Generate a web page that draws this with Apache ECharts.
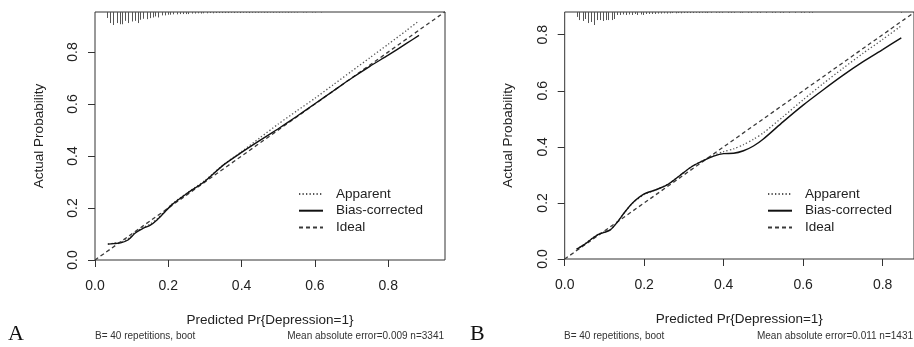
<!DOCTYPE html>
<html>
<head>
<meta charset="utf-8">
<script src="https://cdn.jsdelivr.net/npm/echarts@6.0.0/dist/echarts.min.js"></script>
<style>
html, body { margin: 0; padding: 0; background: #fff; }
#main { width: 914px; height: 347px; }
</style>
</head>
<body>
<div id="main"></div>
<script>
// tick values (both panels)
var tickValues = [0, 0.2, 0.4, 0.6, 0.8];
var legendNames = ['Apparent', 'Bias-corrected', 'Ideal'];

// panel A  (n=3341)
var aPredX = [0.035, 0.05, 0.07, 0.09, 0.11, 0.13, 0.15, 0.17, 0.19, 0.21, 0.25, 0.30, 0.35, 0.40, 0.45, 0.50, 0.55, 0.60, 0.65, 0.70, 0.75, 0.80, 0.85, 0.884];
var aBias = [0.061, 0.063, 0.066, 0.077, 0.104, 0.121, 0.133, 0.155, 0.184, 0.213, 0.255, 0.303, 0.365, 0.414, 0.460, 0.505, 0.552, 0.601, 0.650, 0.699, 0.745, 0.788, 0.833, 0.864];
var aApparent = [0.061, 0.064, 0.069, 0.082, 0.107, 0.124, 0.138, 0.159, 0.187, 0.215, 0.257, 0.306, 0.366, 0.417, 0.470, 0.523, 0.573, 0.622, 0.674, 0.726, 0.778, 0.830, 0.883, 0.920];
var aIdeal = [0, 0.955];
var aRugX = [0.034, 0.042, 0.050, 0.059, 0.067, 0.075, 0.083, 0.091, 0.100, 0.108, 0.116, 0.124, 0.132, 0.141, 0.149, 0.157, 0.165, 0.173, 0.182, 0.190,
             0.198, 0.206, 0.214, 0.223, 0.231, 0.239, 0.247, 0.255, 0.264, 0.272, 0.280, 0.288, 0.296, 0.305, 0.313, 0.321, 0.329, 0.337, 0.346, 0.354,
             0.362, 0.370, 0.378, 0.387, 0.395, 0.403, 0.411, 0.419, 0.428, 0.436, 0.444, 0.452, 0.460, 0.469, 0.477, 0.485, 0.493, 0.501, 0.510, 0.518,
             0.526, 0.534, 0.542, 0.551, 0.559, 0.567, 0.575, 0.583, 0.592, 0.600, 0.608, 0.616];
var aRugFreq = [46, 85, 100, 85, 94, 94, 68, 85, 73, 68, 85, 60, 52, 55, 47, 42, 34, 42, 26, 26,
                21, 21, 18, 18, 16, 16, 16, 16, 12, 12, 10, 12, 10, 10, 8, 10, 8, 8, 8, 8,
                8, 6, 8, 6, 8, 6, 6, 8, 6, 6, 6, 4, 6, 6, 4, 6, 4, 6, 4, 4,
                6, 4, 4, 4, 0, 4, 4, 0, 4, 4, 0, 4];

// panel B  (n=1431)
var bPredX = [0.03, 0.05, 0.07, 0.085, 0.10, 0.115, 0.13, 0.15, 0.17, 0.20, 0.23, 0.26, 0.29, 0.32, 0.35, 0.375, 0.40, 0.425, 0.45, 0.475, 0.50, 0.55, 0.60, 0.65, 0.70, 0.75, 0.80, 0.847];
var bBias = [0.035, 0.052, 0.074, 0.088, 0.095, 0.104, 0.127, 0.165, 0.199, 0.232, 0.247, 0.266, 0.298, 0.330, 0.352, 0.367, 0.376, 0.377, 0.386, 0.403, 0.428, 0.490, 0.549, 0.603, 0.655, 0.703, 0.747, 0.789];
var bApparent = [0.035, 0.053, 0.075, 0.089, 0.097, 0.106, 0.128, 0.165, 0.198, 0.230, 0.247, 0.267, 0.298, 0.330, 0.353, 0.370, 0.383, 0.393, 0.408, 0.427, 0.450, 0.508, 0.568, 0.625, 0.680, 0.733, 0.783, 0.832];
var bIdeal = [0, 0.879];
var bRugX = [0.030, 0.037, 0.045, 0.052, 0.059, 0.067, 0.074, 0.081, 0.088, 0.096, 0.103, 0.110, 0.118, 0.125, 0.132, 0.140, 0.147, 0.154, 0.161, 0.169,
             0.176, 0.183, 0.191, 0.198, 0.205, 0.213, 0.220, 0.227, 0.235, 0.242, 0.249, 0.257, 0.264, 0.271, 0.279, 0.286, 0.293, 0.301, 0.308, 0.315,
             0.323, 0.330, 0.337, 0.345, 0.352, 0.359, 0.367, 0.374, 0.381, 0.389, 0.396, 0.403, 0.411, 0.418, 0.425, 0.433, 0.440, 0.447, 0.455, 0.462,
             0.469, 0.477, 0.484, 0.491, 0.499, 0.506, 0.513, 0.521, 0.528, 0.535, 0.543, 0.550, 0.557, 0.565, 0.572, 0.579, 0.587, 0.594, 0.601, 0.609,
             0.616, 0.623, 0.847];
var bRugFreq = [38, 62, 69, 54, 85, 77, 100, 62, 62, 69, 62, 62, 62, 54, 23, 23, 19, 23, 19, 23,
                15, 23, 19, 23, 15, 15, 15, 15, 12, 12, 10, 12, 10, 8, 10, 8, 10, 8, 8, 8,
                8, 6, 8, 6, 6, 8, 6, 0, 6, 6, 6, 0, 6, 6, 6, 0, 6, 6, 0, 6,
                6, 0, 6, 6, 0, 6, 0, 6, 6, 0, 6, 6, 0, 6, 0, 6, 0, 6, 6, 0,
                6, 6, 6];

var aMax = { x: 0.955, y: 0.954 };
var bMax = { x: 0.879, y: 0.881 };

var font = "'Liberation Sans', Arial, sans-serif";
var ink = '#222';

function pairs(xs, ys) {
    return xs.map(function (x, i) { return [x, ys[i]]; });
}

// rug (histogram spikes) hanging from the top border
function rugSeries(idx, xs, freq, yTop) {
    return {
        type: 'custom',
        xAxisIndex: idx,
        yAxisIndex: idx,
        silent: true,
        data: pairs(xs, freq),
        renderItem: function (params, api) {
            var p = api.coord([api.value(0), yTop]);
            var len = api.value(1) / 100 * 13;
            var x = Math.round(p[0]) + 0.5;
            return {
                type: 'line',
                shape: { x1: x, y1: p[1], x2: x, y2: p[1] + len },
                style: { stroke: '#555', lineWidth: 1 }
            };
        }
    };
}

function curveSeries(idx, name, data, style) {
    return {
        type: 'line',
        name: name,
        xAxisIndex: idx,
        yAxisIndex: idx,
        data: data,
        symbol: 'none',
        smooth: 0.25,
        lineStyle: style,
        itemStyle: { color: style.color },
        z: name == 'Bias-corrected' ? 4 : 3
    };
}

function xAxisCfg(idx, max) {
    return {
        type: 'value',
        gridIndex: idx,
        min: 0,
        max: max,
        interval: 0.2,
        name: 'Predicted Pr{Depression=1}',
        nameLocation: 'middle',
        nameGap: 53,
        nameTextStyle: { fontFamily: font, fontSize: 13.5, color: ink },
        axisLine: { show: false },
        axisTick: { show: true, inside: false, length: 7, customValues: tickValues, lineStyle: { color: '#333' } },
        axisLabel: { customValues: tickValues, margin: 19, fontFamily: font, fontSize: 14, color: ink,
            formatter: function (v) { return v.toFixed(1); } },
        splitLine: { show: false }
    };
}

function yAxisCfg(idx, max) {
    return {
        type: 'value',
        gridIndex: idx,
        min: 0,
        max: max,
        interval: 0.2,
        name: 'Actual Probability',
        nameLocation: 'middle',
        nameGap: 49,
        nameTextStyle: { fontFamily: font, fontSize: 13.5, color: ink },
        axisLine: { show: false },
        axisTick: { show: true, inside: false, length: 7, customValues: tickValues, lineStyle: { color: '#333' } },
        axisLabel: { customValues: tickValues, margin: 15, rotate: 90, fontFamily: font, fontSize: 14, color: ink,
            formatter: function (v) { return v.toFixed(1); } },
        splitLine: { show: false }
    };
}

function legendCfg(left) {
    return {
        data: legendNames,
        orient: 'vertical',
        left: left,
        top: 187,
        padding: 0,
        itemWidth: 24,
        itemHeight: 14,
        itemGap: 2.7,
        selectedMode: false,
        itemStyle: { opacity: 0 },
        textStyle: { fontFamily: font, fontSize: 13.5, color: ink, padding: [0, 0, 0, 8] }
    };
}

var appStyle = { color: '#555', width: 1.3, type: [1.3, 2.2] };
var biasStyle = { color: '#111', width: 1.4, type: 'solid' };
var idealStyle = { color: '#3a3a3a', width: 1.3, type: [4, 3] };

var myChart = echarts.init(document.getElementById('main'), null, { renderer: 'canvas' });
var option = {
    backgroundColor: '#fff',
    animation: false,
    grid: [
        { left: 95, top: 12, width: 350, height: 248, show: true, borderColor: '#333', borderWidth: 1 },
        { left: 564.7, top: 12, width: 350, height: 247, show: true, borderColor: '#333', borderWidth: 1 }
    ],
    xAxis: [xAxisCfg(0, aMax.x), xAxisCfg(1, bMax.x)],
    yAxis: [yAxisCfg(0, aMax.y), yAxisCfg(1, bMax.y)],
    legend: [legendCfg(298), legendCfg(767)],
    series: [
        curveSeries(0, 'Ideal', pairs(aIdeal, aIdeal), idealStyle),
        curveSeries(0, 'Apparent', pairs(aPredX, aApparent), appStyle),
        curveSeries(0, 'Bias-corrected', pairs(aPredX, aBias), biasStyle),
        rugSeries(0, aRugX, aRugFreq, aMax.y),
        curveSeries(1, 'Ideal', pairs(bIdeal, bIdeal), idealStyle),
        curveSeries(1, 'Apparent', pairs(bPredX, bApparent), appStyle),
        curveSeries(1, 'Bias-corrected', pairs(bPredX, bBias), biasStyle),
        rugSeries(1, bRugX, bRugFreq, bMax.y)
    ],
    graphic: [
        { type: 'text', left: 8, top: 323, style: { text: 'A', font: "22px 'Liberation Serif', 'Times New Roman', serif", fill: '#111' } },
        { type: 'text', left: 470, top: 323, style: { text: 'B', font: "22px 'Liberation Serif', 'Times New Roman', serif", fill: '#111' } },
        { type: 'text', left: 95, top: 331, style: { text: 'B= 40 repetitions, boot', font: "10px 'Liberation Sans', Arial, sans-serif", fill: '#333' } },
        { type: 'text', right: 914 - 444, top: 331, style: { text: 'Mean absolute error=0.009 n=3341', font: "10px 'Liberation Sans', Arial, sans-serif", fill: '#333' } },
        { type: 'text', left: 564, top: 331, style: { text: 'B= 40 repetitions, boot', font: "10px 'Liberation Sans', Arial, sans-serif", fill: '#333' } },
        { type: 'text', right: 1, top: 331, style: { text: 'Mean absolute error=0.011 n=1431', font: "10px 'Liberation Sans', Arial, sans-serif", fill: '#333' } }
    ]
};
myChart.setOption(option);
</script>
</body>
</html>
